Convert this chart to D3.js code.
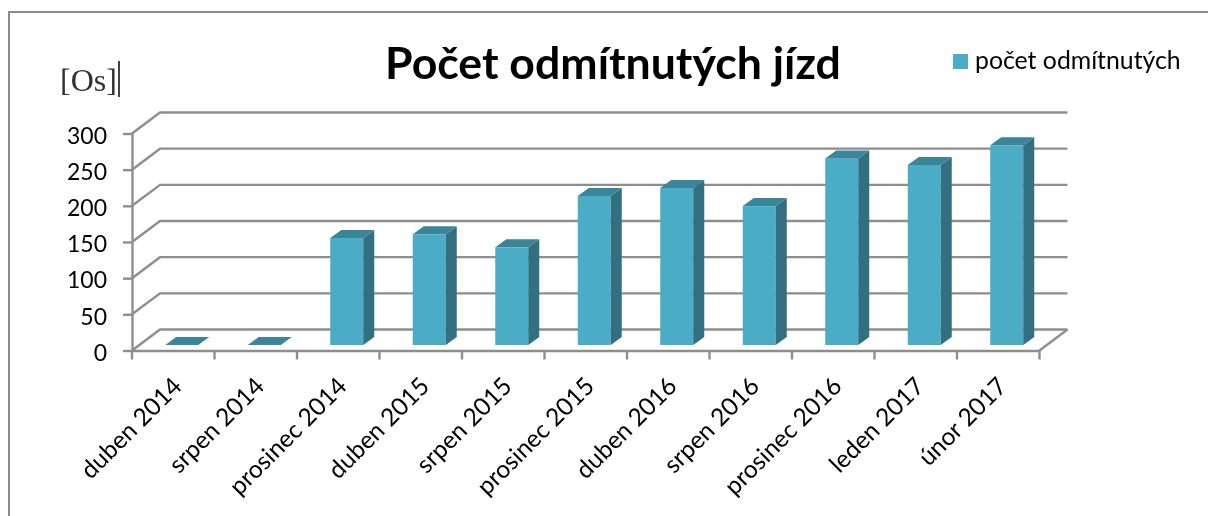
<!DOCTYPE html>
<meta charset="utf-8">
<title>Počet odmítnutých jízd</title>
<script src="https://d3js.org/d3.v7.min.js"></script>
<style>
body { margin: 0; background: #fff; }
svg { display: block; filter: blur(0.45px); }
text { font-family: Lato, sans-serif; fill: #000; }
.axis path, .axis line { stroke: #8e8e8e; stroke-width: 2.4; }
</style>
<div id="chart"></div>
<script>
const categories = ["duben 2014", "srpen 2014", "prosinec 2014", "duben 2015", "srpen 2015", "prosinec 2015",
    "duben 2016", "srpen 2016", "prosinec 2016", "leden 2017", "únor 2017"];
const values = [0, 0, 148, 153, 135, 206, 217, 192, 258, 249, 276];
const yTicks = [0, 50, 100, 150, 200, 250, 300];
const seriesName = "počet odmítnutých";
const chartTitle = "Počet odmítnutých jízd";
const unitLabel = "[Os]";

const width = 1208, height = 516;
const plot = {left: 132, right: 1039.5, bottom: 350.5, top: 133.5};
// 3D look: depth of the chart box and of one bar
const depthX = 28, depthY = 21, barDepthX = 11, barDepthY = 8;
const barShiftX = 8.5, barShiftY = 5.5;

const colFront = "#4aacc5", colSide = "#326f80", colTop = "#3a859a", colGrid = "#8e8e8e";

const svg = d3.select("#chart").append("svg")
    .attr("width", width)
    .attr("height", height);

// outer frame, cut by the picture on the right and bottom
svg.append("path")
    .attr("d", d3.line()([[9, height], [9, 12], [width, 12]]))
    .attr("fill", "none")
    .attr("stroke", "#8c8c8c")
    .attr("stroke-width", 2);

const x = d3.scaleBand()
    .domain(categories)
    .range([plot.left, plot.right])
    .paddingInner(0.6)
    .paddingOuter(0.3);
const y = d3.scaleLinear().domain([0, 300]).range([plot.bottom, plot.top]);

// gridlines run back along the side wall and then over the back wall
svg.append("g").selectAll("path")
    .data(yTicks)
    .enter()
    .append("path")
    .attr("d", d => d3.line()([[plot.left, y(d)], [plot.left + depthX, y(d) - depthY], [plot.right + depthX, y(d) - depthY]]))
    .attr("fill", "none")
    .attr("stroke", colGrid)
    .attr("stroke-width", 2.4);

// right edge of the floor
svg.append("path")
    .attr("d", d3.line()([[plot.right, plot.bottom], [plot.right + depthX, plot.bottom - depthY]]))
    .attr("stroke", colGrid)
    .attr("stroke-width", 2.4);

// bars
const bars = svg.append("g").selectAll("g")
    .data(values)
    .enter()
    .append("g")
    .attr("transform", (d, i) => `translate(${x(categories[i]) + barShiftX}, ${-barShiftY})`);

bars.filter(d => d > 0).append("rect")
    .attr("y", d => y(d))
    .attr("width", x.bandwidth())
    .attr("height", d => y(0) - y(d))
    .attr("fill", colFront);

bars.filter(d => d > 0).append("path")
    .attr("d", d => {
        const w = x.bandwidth();
        return d3.line()([[w, y(d)], [w + barDepthX, y(d) - barDepthY], [w + barDepthX, y(0) - barDepthY], [w, y(0)]]) + "Z";
    })
    .attr("fill", colSide);

bars.append("path")
    .attr("d", d => {
        const w = x.bandwidth();
        return d3.line()([[0, y(d)], [barDepthX, y(d) - barDepthY], [w + barDepthX, y(d) - barDepthY], [w, y(d)]]) + "Z";
    })
    .attr("fill", colTop);

// axes
const yAxis = d3.axisLeft(y)
    .tickValues(yTicks)
    .tickSize(9)
    .tickPadding(16)
    .tickSizeOuter(0);
svg.append("g")
    .attr("class", "axis")
    .attr("transform", `translate(${plot.left}, 0)`)
    .call(yAxis)
    .selectAll("text")
    .attr("dy", "0.42em")
    .style("font-size", "23px")
    .style("font-family", "Lato, sans-serif")
    .attr("fill", "#000");

const xAxis = d3.axisBottom(x).tickSize(0).tickFormat(d => d);
const xg = svg.append("g")
    .attr("class", "axis")
    .attr("transform", `translate(0, ${plot.bottom})`)
    .call(xAxis);
xg.selectAll("text")
    .attr("text-anchor", "end")
    .attr("transform", "translate(-2, 25) rotate(-45)")
    .attr("dy", "0.7em")
    .attr("y", 0)
    .style("font-size", "24.5px")
    .style("font-family", "Lato, sans-serif")
    .attr("fill", "#000");

// category separator ticks sit between the bands
svg.append("g").selectAll("line")
    .data(d3.range(categories.length + 1))
    .enter()
    .append("line")
    .attr("x1", i => plot.left + i * x.step())
    .attr("x2", i => plot.left + i * x.step())
    .attr("y1", plot.bottom)
    .attr("y2", plot.bottom + 9)
    .attr("stroke", colGrid)
    .attr("stroke-width", 2.4);

svg.append("text")
    .attr("x", 613)
    .attr("y", 79)
    .attr("text-anchor", "middle")
    .style("font-size", "44.6px")
    .style("font-weight", "700")
    .text(chartTitle);

// legend
svg.append("rect")
    .attr("x", 953)
    .attr("y", 54)
    .attr("width", 15)
    .attr("height", 15)
    .attr("fill", colFront);
svg.append("text")
    .attr("x", 975)
    .attr("y", 69)
    .style("font-size", "24.8px")
    .text(seriesName);

// unit note with the text cursor left in it
svg.append("text")
    .attr("x", 60)
    .attr("y", 91)
    .style("font-family", "'Liberation Serif', serif")
    .style("font-size", "32px")
    .style("fill", "#333")
    .text(unitLabel);
svg.append("line")
    .attr("x1", 119)
    .attr("x2", 119)
    .attr("y1", 61)
    .attr("y2", 97)
    .attr("stroke", "#444")
    .attr("stroke-width", 2);
</script>
